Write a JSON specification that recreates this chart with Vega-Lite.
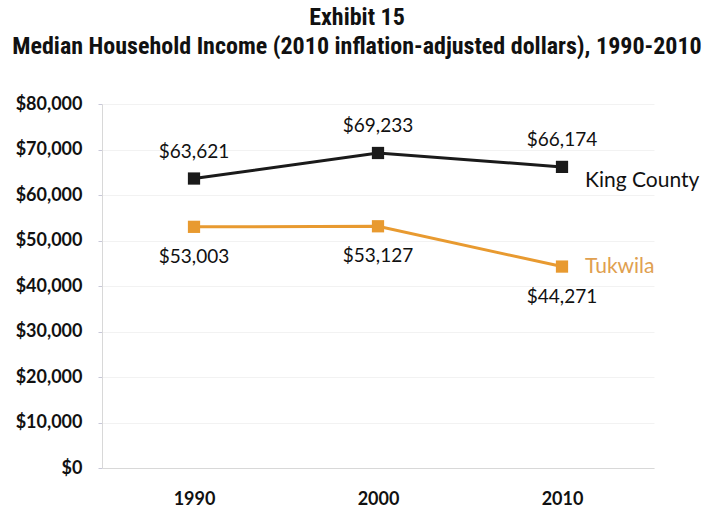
{
  "$schema": "https://vega.github.io/schema/vega-lite/v6.json",
  "autosize": "none",
  "width": 552,
  "height": 364,
  "padding": {"left": 102, "top": 104, "right": 59, "bottom": 40},
  "background": "white",
  "title": {
    "text": ["Exhibit 15", "Median Household Income (2010 inflation-adjusted dollars), 1990-2010"],
    "font": "Roboto Condensed, Liberation Sans Narrow, sans-serif",
    "fontSize": 24,
    "fontWeight": "bold",
    "lineHeight": 29,
    "color": "#111111",
    "anchor": "middle",
    "dx": -21,
    "offset": 36
  },
  "config": {
    "view": {"stroke": null},
    "font": "Lato"
  },
  "data": {
    "values": [
      {"year": "1990", "series": "King County", "income": 63621},
      {"year": "2000", "series": "King County", "income": 69233},
      {"year": "2010", "series": "King County", "income": 66174},
      {"year": "1990", "series": "Tukwila", "income": 53003},
      {"year": "2000", "series": "Tukwila", "income": 53127},
      {"year": "2010", "series": "Tukwila", "income": 44271}
    ]
  },
  "encoding": {
    "x": {
      "field": "year", "type": "ordinal",
      "scale": {"type": "point", "padding": 0.5},
      "axis": {
        "title": null, "labelAngle": 0, "ticks": false,
        "domainColor": "#d8d8d8", "labelFont": "Lato", "labelFontSize": 18,
        "labelFontWeight": "bold", "labelColor": "#111111", "labelPadding": 22
      }
    },
    "y": {
      "field": "income", "type": "quantitative",
      "scale": {"domain": [0, 80000], "nice": false},
      "axis": {
        "title": null, "values": [0, 10000, 20000, 30000, 40000, 50000, 60000, 70000, 80000],
        "format": "$,.0f", "grid": true, "gridColor": "#f2f2f2",
        "domainColor": "#d8d8d8", "tickColor": "#c8c8d8", "tickSize": 4,
        "labelFont": "Lato", "labelFontSize": 18, "labelFontWeight": "bold",
        "labelColor": "#111111", "labelPadding": 16
      }
    },
    "color": {
      "field": "series", "type": "nominal",
      "scale": {"domain": ["King County", "Tukwila"], "range": ["#1a1a1a", "#E89A30"]},
      "legend": null
    }
  },
  "layer": [
    {"mark": {"type": "line", "strokeWidth": 3}},
    {"mark": {"type": "point", "shape": "square", "filled": true, "size": 150, "opacity": 1}},
    {
      "transform": [{"filter": "datum.series === 'King County'"}],
      "mark": {"type": "text", "dy": -27, "fontSize": 19, "font": "Lato", "color": "#111111"},
      "encoding": {"text": {"field": "income", "format": "$,.0f"}, "color": {"value": "#111111"}}
    },
    {
      "transform": [{"filter": "datum.series === 'Tukwila'"}],
      "mark": {"type": "text", "dy": 30, "fontSize": 19, "font": "Lato", "color": "#111111"},
      "encoding": {"text": {"field": "income", "format": "$,.0f"}, "color": {"value": "#111111"}}
    },
    {
      "transform": [{"filter": "datum.year === '2010' && datum.series === 'King County'"}],
      "mark": {"type": "text", "align": "left", "dx": 23, "dy": 14, "fontSize": 21, "font": "Lato"},
      "encoding": {"text": {"field": "series"}, "color": {"value": "#111111"}}
    },
    {
      "transform": [{"filter": "datum.year === '2010' && datum.series === 'Tukwila'"}],
      "mark": {"type": "text", "align": "left", "dx": 23, "dy": 0, "fontSize": 21, "font": "Lato"},
      "encoding": {"text": {"field": "series"}, "color": {"value": "#E0A050"}}
    }
  ]
}
